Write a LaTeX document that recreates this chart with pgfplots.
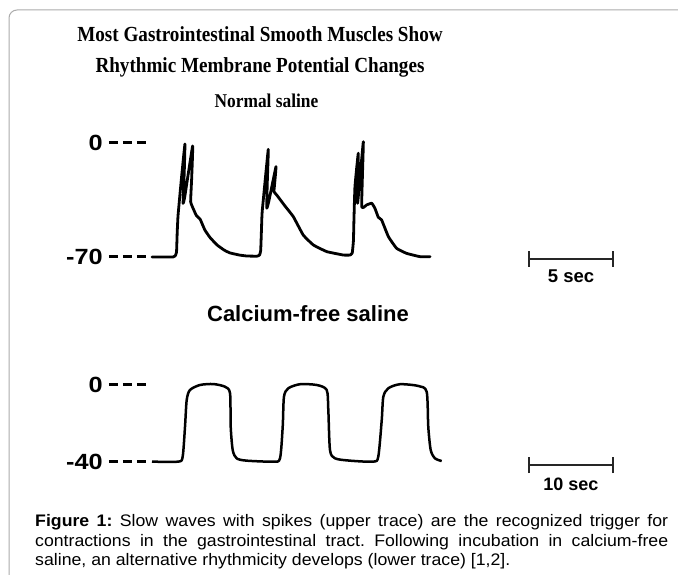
\documentclass[border=0pt]{standalone}
\usepackage{graphicx}
\usepackage{pgfplots}
\pgfplotsset{compat=1.18}
\usepackage{fontspec}
\setmainfont{Liberation Sans}
\newfontfamily\timesf[FakeStretch=0.89]{Liberation Serif}
\newfontfamily\capfont[FakeStretch=1.06]{Liberation Sans}
\newfontfamily\tickfont[FakeStretch=1.15]{Liberation Sans}
\frenchspacing
\newcommand\dsh{\rule[6.6pt]{9pt}{2.8pt}}
\newcommand\lab[1]{\fontsize{22}{24}\tickfont\bfseries #1\hspace{6pt}\dsh\hspace{5pt}\dsh\hspace{5pt}\dsh}
\pgfplotstableread{
t v
0 -70
1.25 -70
1.38 -69.3
1.46 -67
1.50 -55
1.55 -44.5
1.75 -22
1.96 -0.6
1.92 -18
1.85 -37
1.95 -33
2.42 -1.8
2.36 -22
2.30 -36
2.44 -40
2.64 -44.5
2.86 -46.7
2.98 -49.5
3.15 -53.5
3.45 -58
3.87 -62.6
4.3 -65.8
4.64 -67.5
5.2 -68.8
5.65 -69.4
6.25 -69.5
6.40 -68.8
6.47 -66
6.52 -52
6.56 -42
6.92 -3.9
6.86 -25
6.83 -40
6.95 -36
7.38 -14.5
7.30 -25
7.26 -29.9
7.42 -31.9
7.9 -38.5
8.41 -45.2
9.0 -56.5
9.6 -62.6
10.4 -66.7
11.39 -68.8
11.79 -68.8
11.92 -67.5
11.99 -60
12.02 -47.3
12.08 -26.8
12.28 -6.3
12.24 -37
12.58 0.8
12.48 -39
12.78 -38
13.08 -37
13.27 -40.1
13.47 -45.6
13.67 -47.3
14.07 -57.5
14.56 -64.7
15.16 -67.8
15.95 -69.8
16.55 -69.8
}\normaltable
\pgfplotstableread{
t v
0 -39.8
3.13 -39.8
3.65 -37.2
3.93 -21.7
4.13 -7.8
4.52 -2.6
5.71 0
7.30 0.5
8.69 -0.9
9.29 -4.3
9.37 -21.7
9.61 -33.8
10.08 -38.1
11.27 -39.3
14.44 -39.8
15.24 -38.1
15.56 -21.7
15.71 -6.1
16.23 -1.7
17.62 0.4
19.61 0
20.8 -2.6
20.99 -13.0
21.19 -33.8
21.79 -38.1
23.57 -39.3
26.35 -39.8
26.94 -37.2
27.35 -18.2
27.54 -6.1
28.13 -1.7
29.52 0.4
31.7 -0.5
32.7 -3.5
32.89 -21.7
33.18 -33.8
33.69 -38.1
34.49 -39.5
}\cafreetable
\begin{document}
\begin{tikzpicture}
\clip (0,0) rectangle (678pt,574pt);
\fill[white] (0,0) rectangle (678pt,574pt);
\draw[gray!65, line width=1pt, rounded corners=8pt] (9pt,-10pt) -- (9pt,564pt) -- (700pt,564pt);
% titles
\node[anchor=base, inner sep=0] at (260pt,532pt) {\timesf\bfseries\fontsize{21.5}{24}\selectfont Most Gastrointestinal Smooth Muscles Show};
\node[anchor=base, inner sep=0] at (260pt,501pt) {\timesf\bfseries\fontsize{21.5}{24}\selectfont Rhythmic Membrane Potential Changes};
\node[anchor=base, inner sep=0] at (266.5pt,466pt) {\timesf\bfseries\fontsize{19.5}{22}\selectfont Normal saline};
\node[anchor=base, inner sep=0] at (308pt,252pt) {\bfseries\fontsize{22}{24}\selectfont Calcium-free saline};
% upper trace
\begin{axis}[at={(152pt,431pt)}, anchor=north west, scale only axis,
  width=285.6pt, height=117.257pt, xmin=0, xmax=17, ymin=-72, ymax=0,
  clip=false, axis line style={draw=none}, tick style={draw=none},
  xtick=\empty, ytick={-70,0}, yticklabels={\lab{-70},\lab{0}},
  yticklabel style={anchor=east, inner sep=0pt, xshift=-6pt}]
\addplot[black, line width=2.8pt, smooth, tension=0.2, line join=round, line cap=round] table[x=t,y=v] {\normaltable};
\end{axis}
% lower trace
\begin{axis}[at={(152pt,189pt)}, anchor=north west, scale only axis,
  width=294pt, height=78.925pt, xmin=0, xmax=35, ymin=-41, ymax=0,
  clip=false, axis line style={draw=none}, tick style={draw=none},
  xtick=\empty, ytick={-40,0}, yticklabels={\lab{-40},\lab{0}},
  yticklabel style={anchor=east, inner sep=0pt, xshift=-6pt}]
\addplot[black, line width=2.5pt, smooth, tension=0.45, line join=round] table[x=t,y=v] {\cafreetable};
\end{axis}
% scale bars
\draw[line width=2.3pt, black!85] (529pt,315pt) -- (613pt,315pt);
\draw[line width=2.5pt, black!85] (529pt,307pt) -- (529pt,323pt) (613pt,307pt) -- (613pt,323pt);
\node[anchor=base, inner sep=0] at (571pt,291pt) {\bfseries\fontsize{18.5}{20}\selectfont 5 sec};
\draw[line width=2.3pt, black!85] (529pt,109pt) -- (613pt,109pt);
\draw[line width=2.5pt, black!85] (529pt,101pt) -- (529pt,117pt) (613pt,101pt) -- (613pt,117pt);
\node[anchor=base, inner sep=0] at (571pt,84pt) {\bfseries\fontsize{18}{20}\selectfont 10 sec};
% caption
\begin{scope}[every node/.style={anchor=base west, inner sep=0}]
\node at (35pt,48pt) {\capfont\fontsize{16.7}{20}\selectfont\makebox[633pt][s]{\textbf{Figure 1:} Slow waves with spikes (upper trace) are the recognized trigger for}};
\node at (35pt,28pt) {\capfont\fontsize{16.7}{20}\selectfont\makebox[633pt][s]{contractions in the gastrointestinal tract. Following incubation in calcium-free}};
\node at (35pt,9pt) {\capfont\fontsize{16.7}{20}\selectfont saline, an alternative rhythmicity develops (lower trace) [1,2].};
\end{scope}
\end{tikzpicture}
\end{document}
